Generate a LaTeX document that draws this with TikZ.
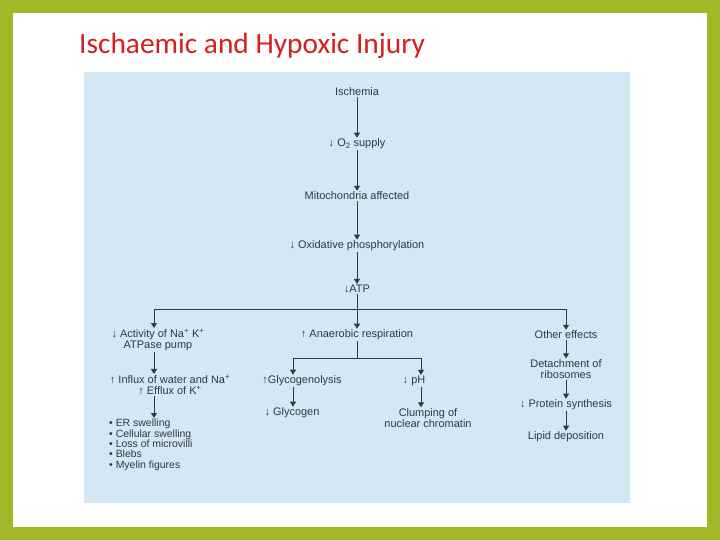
\documentclass[tikz,border=0pt]{standalone}
\usepackage{fontspec}
\setmainfont{Liberation Sans}
\newfontfamily\titlefont{Carlito}
\usetikzlibrary{arrows.meta}
\definecolor{frame}{HTML}{A2B82A}
\definecolor{panel}{HTML}{D3E7F5}
\definecolor{ink}{HTML}{333840}
\definecolor{titlered}{HTML}{D42020}
\begin{document}
\begin{tikzpicture}[x=1bp,y=-1bp,
  t/.style={font=\fontsize{11}{11}\selectfont, text=ink, inner sep=1pt, align=center},
  ar/.style={draw=ink, line width=0.9pt, -{Triangle[width=6pt,length=5pt]}},
  ln/.style={draw=ink, line width=0.9pt}]
\useasboundingbox (0,0) rectangle (720,540);
\fill[frame] (0,0) rectangle (720,540);
\fill[white] (13,13) rectangle (707,527);
\fill[panel] (84,72) rectangle (630,503);
\node[anchor=west, text=titlered, font=\titlefont\fontsize{29.5}{32}\selectfont, inner sep=0] (title) at (79,46) {Ischaemic and Hypoxic Injury};

\node[t] (isc) at (357,92) {Ischemia};
\node[t] (o2) at (357,144) {↓ O\textsubscript{2} supply};
\node[t] (mit) at (357,196) {Mitochondria affected};
\node[t] (oxp) at (357,246) {↓ Oxidative phosphorylation};
\node[t] (atp) at (357,289) {↓ATP};
\node[t] (act) at (158,340) {↓ Activity of Na\textsuperscript{+} K\textsuperscript{+}\\ATPase pump};
\node[t] (ana) at (357,335) {↑ Anaerobic respiration};
\node[t] (oth) at (566,335) {Other effects};
\node[t] (inf) at (170,385) {↑ Influx of water and Na\textsuperscript{+}\\↑ Efflux of K\textsuperscript{+}};
\node[t, align=left, anchor=north west, font=\fontsize{10.5}{10.4}\selectfont] (lst) at (108,418)
  {• ER swelling\\• Cellular swelling\\• Loss of microvilli\\• Blebs\\• Myelin figures};
\node[t] (gly) at (302,381) {↑Glycogenolysis};
\node[t] (gln) at (292,413) {↓ Glycogen};
\node[t] (ph) at (414,381) {↓ pH};
\node[t] (clu) at (428,418) {Clumping of\\nuclear chromatin};
\node[t] (det) at (566,369) {Detachment of\\ribosomes};
\node[t] (pro) at (566,405) {↓ Protein synthesis};
\node[t] (lip) at (566,437) {Lipid deposition};

\coordinate (j1) at (357,309);
\coordinate (jl) at (154,309);
\coordinate (jr) at (566,309);
\coordinate (j2) at (357,358);
\coordinate (jgl) at (293,358);
\coordinate (jph) at (421,358);

\draw[ar] (isc) -- (o2);
\draw[ar] (o2) -- (mit);
\draw[ar] (mit) -- (oxp);
\draw[ar] (oxp) -- (atp);
\draw[ar] (atp) -- (ana);
\draw[ln] (jl) -- (jr);
\draw[ar] (jl) -- (jl|-act.north);
\draw[ar] (jr) -- (oth);
\draw[ar] (jl|-act.south) -- (jl|-inf.north);
\draw[ar] (jl|-inf.south) -- (jl|-lst.north);
\draw[ln] (ana) -- (j2);
\draw[ln] (jgl) -- (jph);
\draw[ar] (jgl) -- (jgl|-gly.north);
\draw[ar] (jph) -- (jph|-ph.north);
\draw[ar] (jgl|-gly.south) -- (jgl|-gln.north);
\draw[ar] (jph|-ph.south) -- (jph|-clu.north);
\draw[ar] (oth) -- (det);
\draw[ar] (det) -- (pro);
\draw[ar] (pro) -- (lip);
\end{tikzpicture}
\end{document}
